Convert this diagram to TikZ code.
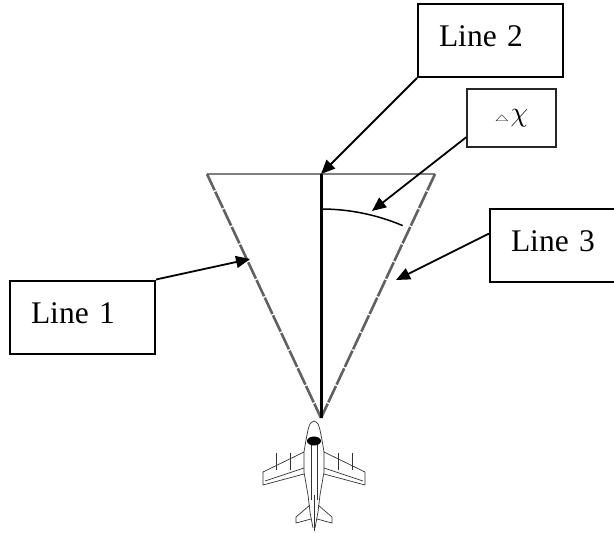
\documentclass[tikz,border=0pt]{standalone}
\usepackage{fontspec}
\setmainfont{Liberation Serif}
\usetikzlibrary{arrows.meta}

\tikzset{
  txtbox/.style={draw,line width=2pt,minimum height=73pt,text width=103pt,inner xsep=21pt,inner ysep=2pt,
    text height=21.5pt,text depth=9pt,align=left,font=\fontsize{31.5}{36}\selectfont},
  dxbox/.style={draw=black!85,line width=1.6pt,minimum width=89pt,minimum height=58pt,font=\fontsize{10}{12}\selectfont},
  ptr/.style={line width=1.8pt,-{Triangle[length=14pt,width=12pt]}},
  side/.style={draw=black!62,line width=2.6pt,dash pattern=on 18pt off 1.5pt},
  plane/.style={draw=black!80,line width=0.7pt,line join=round}
}

\begin{document}
\begin{tikzpicture}[x=1pt,y=1pt]
  \clip(0,0)rectangle(614,-533);

  \coordinate(tl)at(207,-174);
  \coordinate(tr)at(435,-174);
  \coordinate(tc)at(321,-174);
  \coordinate(ap)at(321,-418);
  \coordinate(ax)at(372,-211);
  \coordinate(r1)at(250,-259);
  \coordinate(r3)at(396,-280);

  % the sector
  \draw[gray,line width=2pt](tl)--(tr);
  \draw[side](tl)--(ap);
  \draw[side](tr)--(ap);
  \draw[line width=3pt](tc)--(ap);
  \draw[line width=1.5pt](321,-209)arc(90:67:209);

  % the aircraft
  \fill[black](314,-441)ellipse(7 and 4.5);
  \foreach\s in{-1,1}{
    \begin{scope}[xshift=314pt,xscale=\s]
      \draw[plane](0,-421)..controls(-4,-423)..(-6,-430)--(-8,-440)--(-10,-452)--(-10,-472)--(-6,-495)--(-4,-512)--(-1,-528);
      \draw[plane](-10,-452)--(-51,-472)--(-51,-485)--(-10,-474);
      \draw[plane](-10,-468)--(-49,-481);
      \foreach\f in{-24,-38}\draw[plane](\f,-453)--(\f,-470);
      \draw[plane](-4,-505)--(-18,-517)--(-18,-523)--(-3,-519);
      \draw[plane](-3,-445)--(-3,-500);
    \end{scope}}
  \draw[plane](314,-495)--(314,-531);

  \node[txtbox](l2)at(490.5,-40.5){Line 2};
  \node[dxbox](dx)at(511.5,-118){\scalebox{1.6}[0.9]{$\triangle$}\,\scalebox{2.8}{$\chi$}};
  \node[txtbox,text width=118pt](l3)at(570,-245){Line 3};
  \node[txtbox](l1)at(82.5,-317){Line 1};

  \draw[ptr](l2.south west)--(tc);
  \draw[ptr](dx.203)--(ax);
  \draw[ptr](l3.172)--(r3);
  \draw[ptr](l1.north east)--(r1);
\end{tikzpicture}
\end{document}
